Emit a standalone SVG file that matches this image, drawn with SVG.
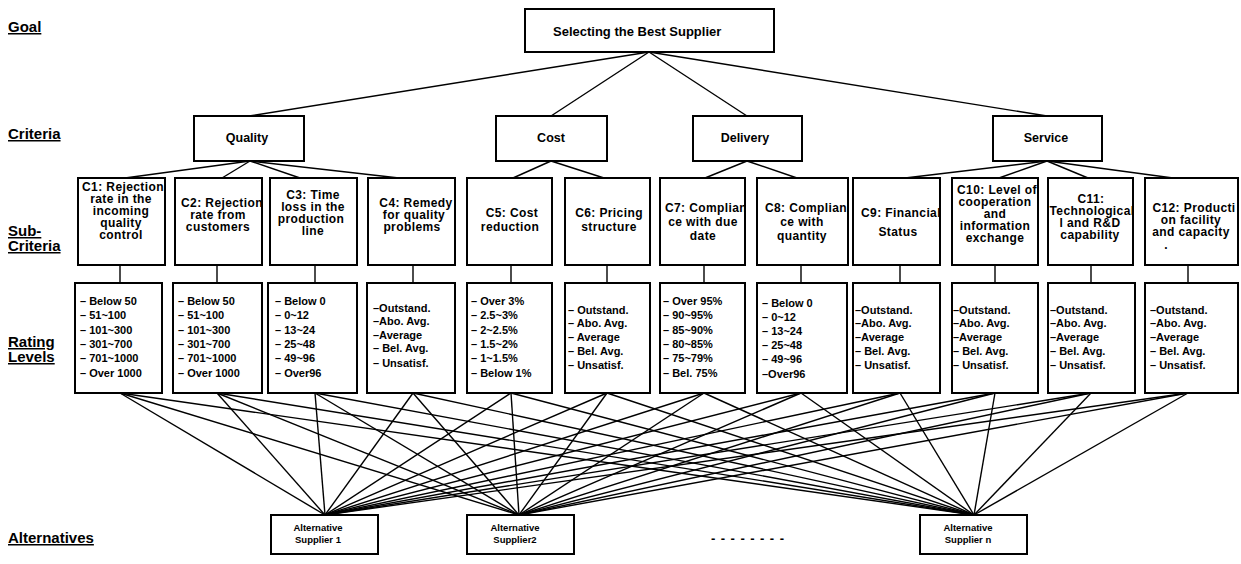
<svg xmlns="http://www.w3.org/2000/svg" width="1241" height="564" viewBox="0 0 1241 564">
<style>
.box{fill:#fff;stroke:#000;stroke-width:2}
.ln{stroke:#000;stroke-width:1.4;fill:none}
text{font-family:"Liberation Sans",Arial,sans-serif;font-weight:bold;fill:#000}
.lbl{font-size:15px;text-decoration:underline}
.goal{font-size:13px}
.cr{font-size:12.5px;text-anchor:middle}
.sc{font-size:12px;letter-spacing:0.4px;text-anchor:middle}
.rt{font-size:11px}
.alt{font-size:9.5px;text-anchor:middle}
</style>
<defs>
<clipPath id="k1"><rect x="79" y="179" width="85" height="85"/></clipPath>
<clipPath id="k2"><rect x="176" y="179" width="85" height="85"/></clipPath>
<clipPath id="k3"><rect x="271" y="179" width="85" height="85"/></clipPath>
<clipPath id="k4"><rect x="369" y="179" width="85" height="85"/></clipPath>
<clipPath id="k5"><rect x="468" y="179" width="83" height="85"/></clipPath>
<clipPath id="k6"><rect x="566" y="179" width="83" height="85"/></clipPath>
<clipPath id="k7"><rect x="661" y="179" width="83" height="85"/></clipPath>
<clipPath id="k8"><rect x="758" y="179" width="89" height="85"/></clipPath>
<clipPath id="k9"><rect x="854" y="179" width="85" height="85"/></clipPath>
<clipPath id="k10"><rect x="953" y="179" width="84" height="85"/></clipPath>
<clipPath id="k11"><rect x="1049" y="179" width="83" height="85"/></clipPath>
<clipPath id="k12"><rect x="1146" y="179" width="91" height="85"/></clipPath>
</defs>
<rect width="1241" height="564" fill="#fff"/>

<g id="row-labels">
<text class="lbl" x="8" y="32">Goal</text>
<text class="lbl" x="8" y="139">Criteria</text>
<text class="lbl" x="8" y="236">Sub-</text>
<text class="lbl" x="8" y="251">Criteria</text>
<text class="lbl" x="8" y="347">Rating</text>
<text class="lbl" x="8" y="362">Levels</text>
<text class="lbl" x="8" y="543">Alternatives</text>
</g>

<g id="connectors">
<line class="ln" x1="649" y1="52" x2="249" y2="116"/>
<line class="ln" x1="649" y1="52" x2="551" y2="116"/>
<line class="ln" x1="649" y1="52" x2="747" y2="116"/>
<line class="ln" x1="649" y1="52" x2="1047" y2="116"/>
<line class="ln" x1="250" y1="161" x2="125" y2="178"/>
<line class="ln" x1="250" y1="161" x2="222" y2="178"/>
<line class="ln" x1="250" y1="161" x2="300" y2="178"/>
<line class="ln" x1="250" y1="161" x2="399" y2="178"/>
<line class="ln" x1="551" y1="161" x2="513" y2="178"/>
<line class="ln" x1="551" y1="161" x2="604" y2="178"/>
<line class="ln" x1="747" y1="161" x2="705" y2="178"/>
<line class="ln" x1="747" y1="161" x2="797" y2="178"/>
<line class="ln" x1="1047" y1="161" x2="905" y2="178"/>
<line class="ln" x1="1047" y1="161" x2="999" y2="178"/>
<line class="ln" x1="1047" y1="161" x2="1088" y2="178"/>
<line class="ln" x1="1047" y1="161" x2="1173" y2="178"/>
<line class="ln" x1="120" y1="265" x2="120" y2="283"/>
<line class="ln" x1="217" y1="265" x2="217" y2="283"/>
<line class="ln" x1="315" y1="265" x2="315" y2="283"/>
<line class="ln" x1="413" y1="265" x2="413" y2="283"/>
<line class="ln" x1="511" y1="265" x2="511" y2="283"/>
<line class="ln" x1="607" y1="265" x2="607" y2="283"/>
<line class="ln" x1="704" y1="265" x2="704" y2="283"/>
<line class="ln" x1="801" y1="265" x2="801" y2="283"/>
<line class="ln" x1="900" y1="265" x2="900" y2="283"/>
<line class="ln" x1="995" y1="265" x2="995" y2="283"/>
<line class="ln" x1="1091" y1="265" x2="1091" y2="283"/>
<line class="ln" x1="1188" y1="265" x2="1188" y2="283"/>
<line class="ln" x1="120" y1="393" x2="325" y2="515"/>
<line class="ln" x1="120" y1="393" x2="519" y2="515"/>
<line class="ln" x1="120" y1="393" x2="974" y2="515"/>
<line class="ln" x1="217" y1="393" x2="325" y2="515"/>
<line class="ln" x1="217" y1="393" x2="519" y2="515"/>
<line class="ln" x1="217" y1="393" x2="974" y2="515"/>
<line class="ln" x1="315" y1="393" x2="325" y2="515"/>
<line class="ln" x1="315" y1="393" x2="519" y2="515"/>
<line class="ln" x1="315" y1="393" x2="974" y2="515"/>
<line class="ln" x1="413" y1="393" x2="325" y2="515"/>
<line class="ln" x1="413" y1="393" x2="519" y2="515"/>
<line class="ln" x1="413" y1="393" x2="974" y2="515"/>
<line class="ln" x1="511" y1="393" x2="325" y2="515"/>
<line class="ln" x1="511" y1="393" x2="519" y2="515"/>
<line class="ln" x1="511" y1="393" x2="974" y2="515"/>
<line class="ln" x1="607" y1="393" x2="325" y2="515"/>
<line class="ln" x1="607" y1="393" x2="519" y2="515"/>
<line class="ln" x1="607" y1="393" x2="974" y2="515"/>
<line class="ln" x1="704" y1="393" x2="325" y2="515"/>
<line class="ln" x1="704" y1="393" x2="519" y2="515"/>
<line class="ln" x1="704" y1="393" x2="974" y2="515"/>
<line class="ln" x1="801" y1="393" x2="325" y2="515"/>
<line class="ln" x1="801" y1="393" x2="519" y2="515"/>
<line class="ln" x1="801" y1="393" x2="974" y2="515"/>
<line class="ln" x1="900" y1="393" x2="325" y2="515"/>
<line class="ln" x1="900" y1="393" x2="519" y2="515"/>
<line class="ln" x1="900" y1="393" x2="974" y2="515"/>
<line class="ln" x1="995" y1="393" x2="325" y2="515"/>
<line class="ln" x1="995" y1="393" x2="519" y2="515"/>
<line class="ln" x1="995" y1="393" x2="974" y2="515"/>
<line class="ln" x1="1091" y1="393" x2="325" y2="515"/>
<line class="ln" x1="1091" y1="393" x2="519" y2="515"/>
<line class="ln" x1="1091" y1="393" x2="974" y2="515"/>
<line class="ln" x1="1188" y1="393" x2="325" y2="515"/>
<line class="ln" x1="1188" y1="393" x2="519" y2="515"/>
<line class="ln" x1="1188" y1="393" x2="974" y2="515"/>
</g>

<g id="goal">
<rect class="box" x="525" y="9" width="249" height="43"/>
<text class="goal" x="553" y="36">Selecting the Best Supplier</text>
</g>

<g id="quality"><rect class="box" x="194" y="116" width="110" height="45"/><text class="cr" x="247" y="142">Quality</text></g>
<g id="cost"><rect class="box" x="496" y="116" width="111" height="45"/><text class="cr" x="551" y="142">Cost</text></g>
<g id="delivery"><rect class="box" x="693" y="116" width="109" height="45"/><text class="cr" x="745" y="142">Delivery</text></g>
<g id="service"><rect class="box" x="993" y="116" width="109" height="45"/><text class="cr" x="1046" y="142">Service</text></g>

<g id="c1"><rect class="box" x="78" y="178" width="87" height="87"/>
<g clip-path="url(#k1)" class="sc"><text x="123" y="191">C1: Rejection</text><text x="121" y="203">rate  in the</text><text x="121" y="215">incoming</text><text x="121" y="227">quality</text><text x="121" y="239">control</text></g></g>
<g id="c2"><rect class="box" x="175" y="178" width="87" height="87"/>
<g clip-path="url(#k2)" class="sc"><text x="222" y="207">C2: Rejection</text><text x="218" y="219">rate from</text><text x="218" y="231">customers</text></g></g>
<g id="c3"><rect class="box" x="270" y="178" width="87" height="87"/>
<g clip-path="url(#k3)" class="sc"><text x="313" y="199">C3: Time</text><text x="313" y="211">loss in the</text><text x="311" y="223">production</text><text x="313" y="235">line</text></g></g>
<g id="c4"><rect class="box" x="368" y="178" width="87" height="87"/>
<g clip-path="url(#k4)" class="sc"><text x="416" y="207">C4: Remedy</text><text x="414" y="219">for quality</text><text x="412" y="231">problems</text></g></g>
<g id="c5"><rect class="box" x="467" y="178" width="85" height="87"/>
<g clip-path="url(#k5)" class="sc"><text x="512" y="217">C5: Cost</text><text x="510" y="231">reduction</text></g></g>
<g id="c6"><rect class="box" x="565" y="178" width="85" height="87"/>
<g clip-path="url(#k6)" class="sc"><text x="609" y="217">C6: Pricing</text><text x="609" y="231">structure</text></g></g>
<g id="c7"><rect class="box" x="660" y="178" width="85" height="87"/>
<g clip-path="url(#k7)" class="sc"><text x="706" y="212">C7: Complian</text><text x="703" y="226">ce with due</text><text x="703" y="240">date</text></g></g>
<g id="c8"><rect class="box" x="757" y="178" width="91" height="87"/>
<g clip-path="url(#k8)" class="sc"><text x="806" y="212">C8: Complian</text><text x="802" y="226">ce with</text><text x="802" y="240">quantity</text></g></g>
<g id="c9"><rect class="box" x="853" y="178" width="87" height="87"/>
<g clip-path="url(#k9)" class="sc"><text x="901" y="217">C9: Financial</text><text x="898" y="236">Status</text></g></g>
<g id="c10"><rect class="box" x="952" y="178" width="86" height="87"/>
<g clip-path="url(#k10)" class="sc"><text x="997" y="194">C10: Level of</text><text x="995" y="206">cooperation</text><text x="995" y="218">and</text><text x="995" y="230">information</text><text x="995" y="242">exchange</text></g></g>
<g id="c11"><rect class="box" x="1048" y="178" width="85" height="87"/>
<g clip-path="url(#k11)" class="sc"><text x="1091" y="203">C11:</text><text x="1092" y="215">Technological</text><text x="1090" y="227">l and R&amp;D</text><text x="1090" y="239">capability</text></g></g>
<g id="c12"><rect class="box" x="1145" y="178" width="93" height="87"/>
<g clip-path="url(#k12)" class="sc"><text x="1194" y="212">C12: Producti</text><text x="1191" y="224">on facility</text><text x="1191" y="236">and capacity</text><text x="1166" y="249">.</text></g></g>

<g id="r1"><rect class="box" x="75" y="283" width="87" height="110"/>
<g class="rt"><text x="80" y="305">– Below 50</text><text x="80" y="319">– 51~100</text><text x="80" y="334">– 101~300</text><text x="80" y="348">– 301~700</text><text x="80" y="362">– 701~1000</text><text x="80" y="377">– Over 1000</text></g></g>
<g id="r2"><rect class="box" x="173" y="283" width="89" height="110"/>
<g class="rt"><text x="178" y="305">– Below 50</text><text x="178" y="319">– 51~100</text><text x="178" y="334">– 101~300</text><text x="178" y="348">– 301~700</text><text x="178" y="362">– 701~1000</text><text x="178" y="377">– Over 1000</text></g></g>
<g id="r3"><rect class="box" x="268" y="283" width="89" height="110"/>
<g class="rt"><text x="275" y="305">– Below 0</text><text x="275" y="319">– 0~12</text><text x="275" y="334">– 13~24</text><text x="275" y="348">– 25~48</text><text x="275" y="362">– 49~96</text><text x="275" y="377">– Over96</text></g></g>
<g id="r4"><rect class="box" x="367" y="283" width="88" height="110"/>
<g class="rt"><text x="373" y="312">–Outstand.</text><text x="373" y="325">–Abo. Avg.</text><text x="373" y="339">–Average</text><text x="373" y="352">– Bel. Avg.</text><text x="373" y="367">– Unsatisf.</text></g></g>
<g id="r5"><rect class="box" x="467" y="283" width="85" height="110"/>
<g class="rt"><text x="471" y="305">– Over 3%</text><text x="471" y="319">– 2.5~3%</text><text x="471" y="334">– 2~2.5%</text><text x="471" y="348">– 1.5~2%</text><text x="471" y="362">– 1~1.5%</text><text x="471" y="377">– Below 1%</text></g></g>
<g id="r6"><rect class="box" x="565" y="283" width="85" height="110"/>
<g class="rt"><text x="568" y="314">– Outstand.</text><text x="568" y="327">– Abo. Avg.</text><text x="568" y="341">– Average</text><text x="568" y="355">– Bel. Avg.</text><text x="568" y="369">– Unsatisf.</text></g></g>
<g id="r7"><rect class="box" x="660" y="283" width="85" height="110"/>
<g class="rt"><text x="663" y="305">– Over 95%</text><text x="663" y="319">– 90~95%</text><text x="663" y="334">– 85~90%</text><text x="663" y="348">– 80~85%</text><text x="663" y="362">– 75~79%</text><text x="663" y="377">– Bel. 75%</text></g></g>
<g id="r8"><rect class="box" x="757" y="283" width="90" height="110"/>
<g class="rt"><text x="762" y="307">– Below 0</text><text x="762" y="321">– 0~12</text><text x="762" y="335">– 13~24</text><text x="762" y="349">– 25~48</text><text x="762" y="363">– 49~96</text><text x="762" y="378">–Over96</text></g></g>
<g id="r9"><rect class="box" x="853" y="283" width="87" height="110"/>
<g class="rt"><text x="855" y="314">–Outstand.</text><text x="855" y="327">–Abo. Avg.</text><text x="855" y="341">–Average</text><text x="855" y="355">– Bel. Avg.</text><text x="855" y="369">– Unsatisf.</text></g></g>
<g id="r10"><rect class="box" x="952" y="283" width="86" height="110"/>
<g class="rt"><text x="953" y="314">–Outstand.</text><text x="953" y="327">–Abo. Avg.</text><text x="953" y="341">–Average</text><text x="953" y="355">– Bel. Avg.</text><text x="953" y="369">– Unsatisf.</text></g></g>
<g id="r11"><rect class="box" x="1048" y="283" width="87" height="110"/>
<g class="rt"><text x="1050" y="314">–Outstand.</text><text x="1050" y="327">–Abo. Avg.</text><text x="1050" y="341">–Average</text><text x="1050" y="355">– Bel. Avg.</text><text x="1050" y="369">– Unsatisf.</text></g></g>
<g id="r12"><rect class="box" x="1145" y="283" width="93" height="110"/>
<g class="rt"><text x="1150" y="314">–Outstand.</text><text x="1150" y="327">–Abo. Avg.</text><text x="1150" y="341">–Average</text><text x="1150" y="355">– Bel. Avg.</text><text x="1150" y="369">– Unsatisf.</text></g></g>

<g id="alt1"><rect class="box" x="271" y="515" width="107" height="39"/><text class="alt" x="318" y="531">Alternative</text><text class="alt" x="318" y="543">Supplier 1</text></g>
<g id="alt2"><rect class="box" x="467" y="515" width="107" height="39"/><text class="alt" x="515" y="531">Alternative</text><text class="alt" x="515" y="543">Supplier2</text></g>
<g id="altn"><rect class="box" x="920" y="515" width="107" height="39"/><text class="alt" x="968" y="531">Alternative</text><text class="alt" x="968" y="543">Supplier n</text></g>
<g id="ellipsis"><text x="711" y="543" font-size="13" textLength="73" lengthAdjust="spacing">--------</text></g>
</svg>
